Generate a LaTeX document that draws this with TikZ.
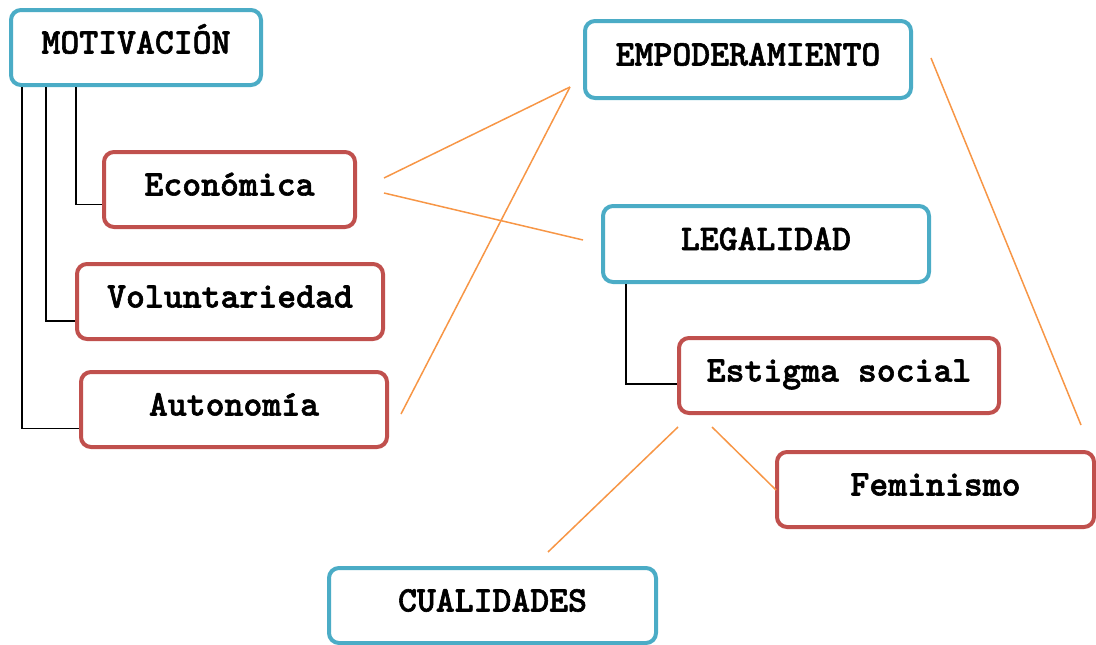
\documentclass[tikz,border=0pt]{standalone}
\usepackage{fontspec}
\newfontfamily\macchina{lmmonolt10-bold.otf}[FakeBold=1.6]
\definecolor{azzurro}{HTML}{4BACC6}
\definecolor{rosso}{HTML}{C0504D}
\definecolor{arancio}{HTML}{F79646}
\tikzset{
  box/.style={draw, line width=4pt, rounded corners=10pt, fill=white,
    font=\fontsize{36}{40}\macchina\bfseries, text height=21pt, text depth=9pt,
    minimum height=75pt},
  capo/.style={box, draw=azzurro},
  voce/.style={box, draw=rosso},
  ramo/.style={line width=1.2pt, black},
  filo/.style={line width=1.5pt, arancio}
}
\begin{document}
\begin{tikzpicture}[x=1pt,y=-1pt]
\useasboundingbox (0,0) rectangle (1096,645);

%motivazione
\node[capo, minimum width=250pt] (motiv) at (136,47.5) {MOTIVACIÓN};
\node[voce, minimum width=251pt] (econ) at (229.5,189.5) {Económica};
\node[voce, minimum width=306pt] (volun) at (230,301.5) {Voluntariedad};
\node[voce, minimum width=306pt] (auton) at (234,409.5) {Autonomía};
\foreach \dx/\n/\dy in {13/auton/-19, 37/volun/-19.5, 67/econ/-15}
  {\draw[ramo] ([xshift=\dx pt]motiv.south west) |- ([yshift=\dy pt]\n.west);}

%legalita
\node[capo, minimum width=326pt, minimum height=77pt] (empod) at (748,59.5) {EMPODERAMIENTO};
\node[capo, minimum width=326pt, minimum height=76pt] (legal) at (766,244) {LEGALIDAD};
\node[voce, minimum width=320pt] (estig) at (839,375.5) {Estigma social};
\node[voce, minimum width=317pt] (femin) at (935.5,489.5) {Feminismo};
\node[capo, minimum width=327pt] (cuali) at (492.5,605.5) {CUALIDADES};
\draw[ramo] ([xshift=25pt]legal.south west) |- ([yshift=-8.5pt]estig.west);

%collegamenti
\coordinate (econ-a) at (384,178);
\coordinate (econ-b) at (384,193);
\coordinate (empod-in) at (570,87);
\coordinate (legal-in) at (583,240);
\coordinate (auton-a) at (401,414);
\coordinate (empod-r) at (931,58);
\coordinate (femin-top) at (1081,425);
\coordinate (estig-a) at (678,427);
\coordinate (estig-b) at (712,427);
\coordinate (cuali-top) at (548,552);
\coordinate (femin-l) at (776,490);
\draw[filo] (econ-a) -- (empod-in);
\draw[filo] (econ-b) -- (legal-in);
\draw[filo] (auton-a) -- (empod-in);
\draw[filo] (empod-r) -- (femin-top);
\draw[filo] (estig-a) -- (cuali-top);
\draw[filo] (estig-b) -- (femin-l);

\end{tikzpicture}
\end{document}
